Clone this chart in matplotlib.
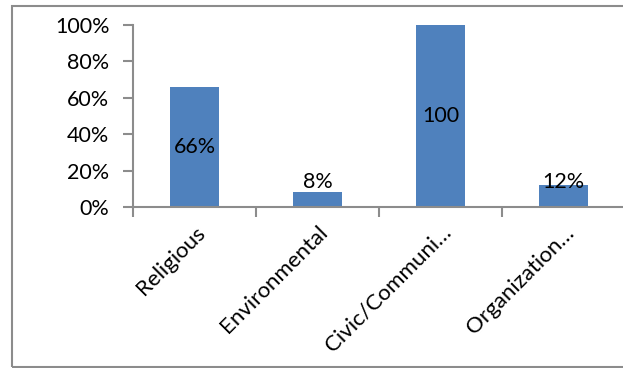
import matplotlib.pyplot as plt
from matplotlib.patches import Rectangle
from matplotlib.ticker import PercentFormatter

categories = ['Religious', 'Environmental', 'Civic/Communi…', 'Organization…']
values = [66, 8, 100, 12]
bar_labels = ['66%', '8%', '100', '12%']
label_y = [33, 13.7, 50, 13.7]

plt.rcParams['font.family'] = ['Lato', 'DejaVu Sans']

fig = plt.figure(figsize=(6.23, 3.68), dpi=100)
W, H = 623, 368
ax = fig.add_axes([133 / W, 1 - 207 / H, 492 / W, 182 / H])

# outer chart border
fig.patches.append(Rectangle((12 / W, 1 / H), 0.999, 1 - 7 / H, transform=fig.transFigure,
                             fill=False, edgecolor='#8c8c8c', linewidth=1.5))

x = range(len(categories))
ax.bar(x, values, width=0.4, color='#4f81bd')
for i in x:
    ax.text(i, label_y[i], bar_labels[i], ha='center', va='center', fontsize=15.5, color='black')

ax.set_xlim(-0.5, len(categories) - 0.5)
ax.set_ylim(0, 100)
ax.set_yticks([0, 20, 40, 60, 80, 100])
ax.yaxis.set_major_formatter(PercentFormatter(decimals=0))
ax.set_xticks([i - 0.5 for i in range(len(categories) + 1)], minor=False)
ax.set_xticklabels([])
ax.set_xticks(list(x), minor=True)
ax.set_xticklabels(categories, minor=True, rotation=45, ha='right', rotation_mode='anchor', fontsize=16)
ax.tick_params(axis='x', which='minor', length=0, pad=11)
ax.tick_params(axis='x', which='major', length=7, color='#8c8c8c', width=1.5)
ax.tick_params(axis='y', length=7, color='#8c8c8c', width=1.5, labelsize=15.5, pad=10)

for s in ['top', 'right']:
    ax.spines[s].set_visible(False)
for s in ['left', 'bottom']:
    ax.spines[s].set_color('#8c8c8c')
    ax.spines[s].set_linewidth(1.5)

fig.savefig('out.png', dpi=100)
